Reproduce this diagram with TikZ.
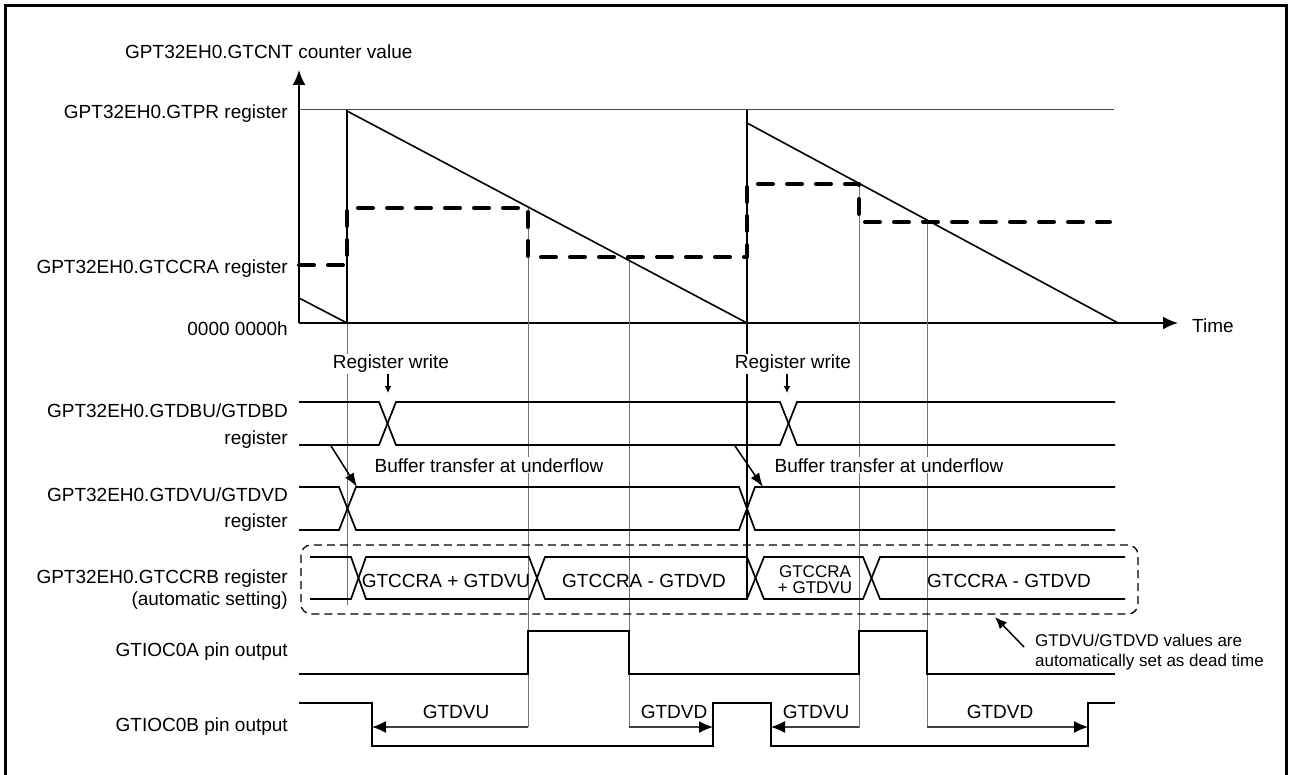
\documentclass[tikz,border=0pt]{standalone}
\usepackage{fontspec}
\setmainfont{Liberation Sans}
\usetikzlibrary{arrows.meta}

\begin{document}
\begin{tikzpicture}[x=1pt,y=-1pt,
    lbl/.style={font=\fontsize{19}{22}\selectfont,inner sep=0pt},
    smalltxt/.style={font=\fontsize{17}{20}\selectfont,inner sep=0pt},
    cover/.style={fill=white,inner sep=1pt},
    axisline/.style={line width=2pt,-{Latex[length=15pt,width=13pt]}},
    ramp/.style={line width=1.6pt},
    cmp/.style={line width=4pt,line cap=round,line join=round,dash pattern=on 15pt off 14pt},
    event/.style={black!55,line width=1pt},
    wave/.style={line width=1.7pt},
    pinout/.style={line width=2pt},
    dimarrow/.style={black!75,line width=1.2pt,-{Latex[length=14pt,width=12pt,color=black]}},
    thinarrow/.style={line width=1.5pt,-{Latex[length=14pt,width=10pt]}}]
\useasboundingbox (0,0) rectangle (1290,775);
% frame
\draw[line width=3pt] (5,775) -- (5,6) -- (1286,6) -- (1286,775);
% counter axes and the GTPR level
\draw[black!70,line width=1pt] (299,110) -- (1114,110);
\draw[axisline] (299,323) -- (299,70);
\draw[axisline] (299,323) -- (1178,323);
\node[lbl,anchor=base west] (cntlabel) at (125,59) {GPT32EH0.GTCNT counter value};
\node[lbl,anchor=base west] (timelabel) at (1192,333) {Time};
\node[lbl,anchor=base east] (gtpr) at (288,119) {GPT32EH0.GTPR register};
\node[lbl,anchor=base east] (gtccra) at (288,274) {GPT32EH0.GTCCRA register};
\node[lbl,anchor=base east] (zero) at (288,336) {0000 0000h};
% timing lines at underflow and at compare match
\foreach \x/\ya/\yb in {347/323/605, 528/208/727, 629/257/727, 859/184/728, 927/222/728}
  \draw[event] (\x,\ya) -- (\x,\yb);
\draw[line width=1.2pt] (747,110) -- (747,600);
% sawtooth of the counter
\draw[ramp] (299,298) -- (347,323) -- (347,110);
\draw[ramp] (347,111) -- (747,323);
\draw[ramp] (747,123) -- (1118,323);
% compare value (dashed)
\draw[cmp] (299,265) -- (347,265) -- (347,208) -- (528,208) -- (528,257) -- (747,257)
  -- (747,184) -- (859,184) -- (859,222) -- (1110,222);
% register write
\node[lbl,cover,anchor=base] (rw1) at (391,369) {Register write};
\node[lbl,cover,anchor=base] (rw2) at (793,369) {Register write};
\coordinate (wr1) at (388,393);
\coordinate (wr2) at (787,393);
\draw[line width=1.5pt,-{Latex[length=7pt,width=7pt]}] (rw1.south -| wr1) -- (wr1);
\draw[line width=1.5pt,-{Latex[length=7pt,width=7pt]}] (rw2.south -| wr2) -- (wr2);
% GTDBU/GTDBD bus
\node[lbl,anchor=base east] (dbu) at (288,417) {GPT32EH0.GTDBU/GTDBD};
\node[lbl,anchor=base east] (dbureg) at (288,444) {register};
\draw[wave] (299,402) -- (379,402) -- (396,445) -- (780,445) -- (797,402) -- (1115,402);
\draw[wave] (299,445) -- (379,445) -- (396,402) -- (780,402) -- (797,445) -- (1115,445);
% buffer transfer
\node[lbl,cover,anchor=base] (bt1) at (489,472) {Buffer transfer at underflow};
\node[lbl,cover,anchor=base] (bt2) at (889,472) {Buffer transfer at underflow};
\coordinate (bt1a) at (331,446);
\coordinate (bt1b) at (357,487);
\coordinate (bt2a) at (735,446);
\coordinate (bt2b) at (763,487);
\draw[thinarrow] (bt1a) -- (bt1b);
\draw[thinarrow] (bt2a) -- (bt2b);
% GTDVU/GTDVD bus
\node[lbl,anchor=base east] (dvu) at (288,501) {GPT32EH0.GTDVU/GTDVD};
\node[lbl,anchor=base east] (dvureg) at (288,527) {register};
\draw[wave] (299,487) -- (339,487) -- (356,530) -- (739,530) -- (755,487) -- (1115,487);
\draw[wave] (299,530) -- (339,530) -- (356,487) -- (739,487) -- (755,530) -- (1115,530);
% GTCCRB bus (automatic setting)
\node[lbl,anchor=base east] (ccrb) at (288,583) {GPT32EH0.GTCCRB register};
\node[lbl,anchor=base east] (ccrbauto) at (288,605) {(automatic setting)};
\draw[line width=1.3pt,dash pattern=on 8pt off 5pt,rounded corners=10pt] (301,545) rectangle (1138,614);
\draw[wave] (310,557) -- (351,557) -- (366,599) -- (529,599) -- (545,557) -- (747,557)
  -- (764,599) -- (863,599) -- (880,557) -- (1125,557);
\draw[wave] (310,599) -- (351,599) -- (366,557) -- (529,557) -- (545,599) -- (747,599)
  -- (764,557) -- (863,557) -- (880,599) -- (1125,599);
\node[lbl,anchor=base] (up1) at (446,587) {GTCCRA + GTDVU};
\node[lbl,anchor=base] (dn1) at (644,587) {GTCCRA - GTDVD};
\node[smalltxt,anchor=base] (up2a) at (815,577) {GTCCRA};
\node[smalltxt,anchor=base] (up2b) at (815,593) {+ GTDVU};
\node[lbl,anchor=base] (dn2) at (1009,587) {GTCCRA - GTDVD};
% note on the dead time values
\node[smalltxt,anchor=base west] (note) at (1035,646) {GTDVU/GTDVD values are};
\node[smalltxt,anchor=base west] (note2) at (1035,666) {automatically set as dead time};
\coordinate (notefrom) at (1024,647);
\coordinate (notetip) at (995,617);
\draw[line width=1.5pt,-{Latex[length=12pt,width=10pt]}] (notefrom) -- (notetip);
% pin outputs
\node[lbl,anchor=base east] (oca) at (288,656) {GTIOC0A pin output};
\node[lbl,anchor=base east] (ocb) at (288,731) {GTIOC0B pin output};
\draw[pinout] (299,674) -- (528,674) -- (528,631) -- (629,631) -- (629,674) -- (859,674)
  -- (859,631) -- (927,631) -- (927,674) -- (1115,674);
\draw[pinout] (299,703) -- (372,703) -- (372,746) -- (713,746) -- (713,703) -- (771,703)
  -- (771,746) -- (1088,746) -- (1088,703) -- (1115,703);
% dead times
\foreach \a/\b in {528/372, 629/713, 859/771, 927/1088}
  \draw[dimarrow] (\a,727) -- (\b,727);
\node[lbl,anchor=base] (dvu1) at (456,718) {GTDVU};
\node[lbl,anchor=base] (dvd1) at (674,718) {GTDVD};
\node[lbl,anchor=base] (dvu2) at (816,718) {GTDVU};
\node[lbl,anchor=base] (dvd2) at (1000,718) {GTDVD};
\end{tikzpicture}
\end{document}
